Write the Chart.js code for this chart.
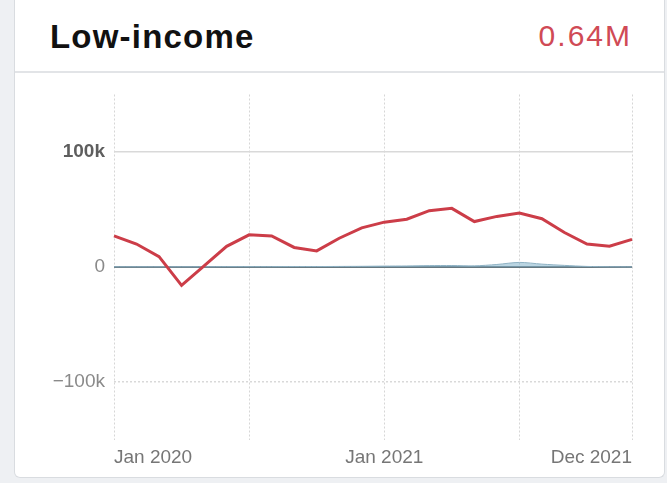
<!DOCTYPE html>
<html>
<head>
<meta charset="utf-8">
<script src="https://cdn.jsdelivr.net/npm/chart.js@4/dist/chart.umd.min.js"></script>
<style>
  html, body { margin: 0; padding: 0; width: 667px; height: 483px; overflow: hidden; background: #eef0f3; font-family: "Liberation Sans", Arial, sans-serif; }
  #card { position: absolute; left: 14px; top: 0px; width: 649px; height: 477px; background: #fff; border: 1px solid #d9dce0; border-top: none; border-radius: 0 0 6px 6px; }
  #header { position: absolute; left: 0; top: 0; width: 100%; height: 71px; border-bottom: 2px solid #e2e4e7; }
  #title { position: absolute; left: 50px; top: 20px; font-size: 33px; line-height: 33px; font-weight: bold; letter-spacing: 1.2px; color: #111; white-space: nowrap; }
  #value { position: absolute; right: 35px; top: 21px; font-size: 30px; line-height: 30px; letter-spacing: 2px; color: #d04a55; white-space: nowrap; }
  #chart { position: absolute; left: 0; top: 0; }
</style>
</head>
<body>
<div id="card"><div id="header"></div></div>
<div id="title">Low-income</div>
<div id="value">0.64M</div>
<canvas id="chart" width="667" height="483"></canvas>
<script>
// Months (Jan 2020 .. Dec 2021)
const months = ['Jan 2020','Feb 2020','Mar 2020','Apr 2020','May 2020','Jun 2020','Jul 2020','Aug 2020','Sep 2020','Oct 2020','Nov 2020','Dec 2020',
                'Jan 2021','Feb 2021','Mar 2021','Apr 2021','May 2021','Jun 2021','Jul 2021','Aug 2021','Sep 2021','Oct 2021','Nov 2021','Dec 2021'];
// Main (red) series
const lowIncome = [27000, 20000, 9000, -16000, 1000, 18000, 28000, 27000, 17000, 14000, 25000, 34000,
                   39000, 41500, 49000, 51000, 39500, 44000, 47000, 42000, 30000, 20000, 18000, 24000];
// Secondary (blue-gray, near zero) series
const secondary = [200, 200, 200, 200, 200, 300, 300, 300, 400, 400, 500, 600,
                   800, 900, 1200, 1300, 1000, 2200, 4000, 2500, 1400, 500, 200, 100];
// Axis ticks
const yTicks = [-100000, 0, 100000];
const xGridMonths = ['Jan 2020','Jul 2020','Jan 2021','Jul 2021','Dec 2021'];
const xLabeledMonths = ['Jan 2020','Jan 2021','Dec 2021'];

const FONT = '"Liberation Sans", Arial, sans-serif';

new Chart(document.getElementById('chart'), {
  type: 'line',
  data: {
    labels: months,
    datasets: [
      {
        data: secondary,
        borderColor: '#8fb2c4',
        borderWidth: 1,
        backgroundColor: 'rgba(130,178,202,0.55)',
        fill: 'origin',
        pointRadius: 0,
        tension: 0.3,
        order: 2
      },
      {
        data: lowIncome,
        borderColor: '#cc3d48',
        borderWidth: 3,
        fill: false,
        pointRadius: 0,
        tension: 0,
        order: 1
      }
    ]
  },
  options: {
    responsive: false,
    animation: false,
    events: [],
    layout: { padding: { left: 0, top: 94.5, right: 35, bottom: 0 } },
    plugins: { legend: { display: false }, tooltip: { enabled: false } },
    scales: {
      x: {
        type: 'category',
        offset: false,
        afterBuildTicks: (scale) => {
          scale.ticks = xGridMonths.map(m => ({ value: months.indexOf(m) }));
        },
        afterFit: (scale) => { scale.height = 43.5; },
        grid: { color: '#d6d6d6', lineWidth: 1, drawTicks: false },
        border: { display: false, dash: [2, 2] },
        ticks: {
          autoSkip: false,
          maxRotation: 0,
          minRotation: 0,
          align: 'inner',
          padding: 7,
          color: '#767676',
          font: { family: FONT, size: 19 },
          callback: function (value) {
            const lab = months[value];
            return xLabeledMonths.includes(lab) ? lab : '';
          }
        }
      },
      y: {
        min: -150000,
        max: 150000,
        afterBuildTicks: (scale) => {
          scale.ticks = yTicks.map(v => ({ value: v }));
        },
        afterFit: (scale) => { scale.width = 114; },
        grid: {
          drawTicks: false,
          color: (ctx) => ctx.tick && ctx.tick.value === 0 ? '#66777f' : '#d9d9d9',
          lineWidth: (ctx) => ctx.tick && ctx.tick.value === 0 ? 2 : 1.5
        },
        border: { display: false, dash: (ctx) => (ctx.tick && ctx.tick.value < 0) ? [2, 2] : [] },
        ticks: {
          padding: 9,
          color: (ctx) => ctx.tick && ctx.tick.value > 0 ? '#5e5e5e' : '#8a8a8a',
          font: (ctx) => ({ family: FONT, size: 19, weight: (ctx.tick && ctx.tick.value > 0) ? 'bold' : 'normal' }),
          callback: (v) => {
            if (v === 0) return '0';
            const k = Math.abs(v) / 1000 + 'k';
            return v < 0 ? '\u2212' + k : k;
          }
        }
      }
    }
  }
});
</script>
</body>
</html>
